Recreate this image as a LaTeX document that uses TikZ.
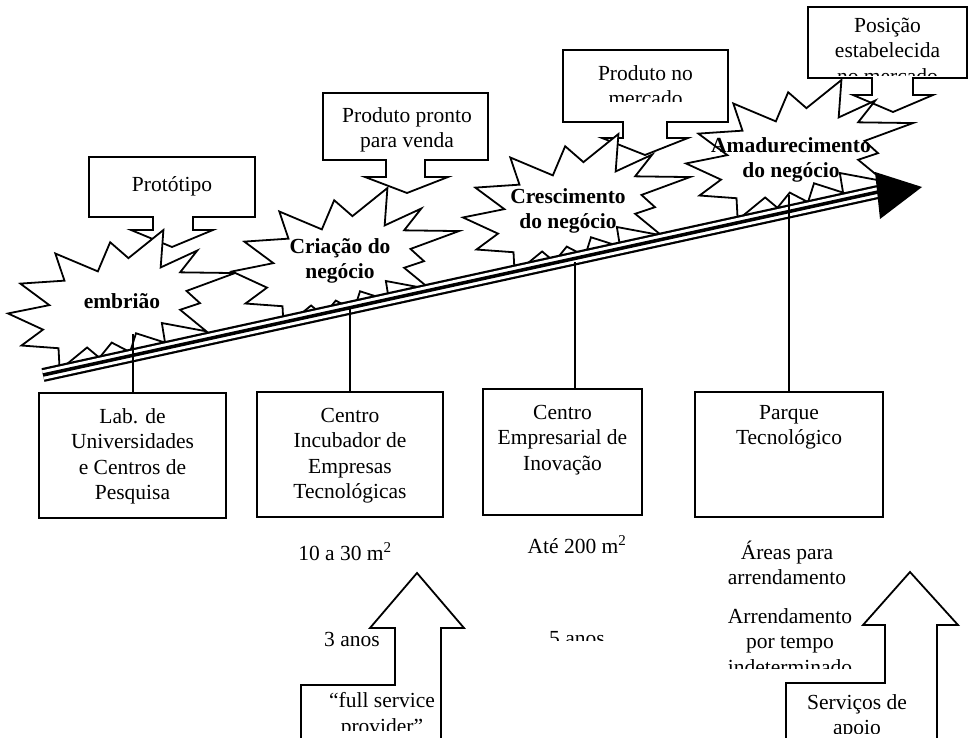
\documentclass[tikz,border=0pt]{standalone}
\usepackage{fontspec}
\setmainfont{Liberation Serif}
\usetikzlibrary{calc}
\newcommand\mystarburst[2]{%
  \begin{scope}[shift={(#1,#2)},xscale=227,yscale=140]
    \draw[ln,fill=white] (0.4501,0.0874) -- (0.3958,0.2955) -- (0.2084,0.1678) -- (0.2487,0.3619) -- (0.0543,0.3829) -- (0.1822,0.5367) -- (0,0.5962) -- (0.1542,0.7116) -- (0.0595,0.8252) -- (0.2225,0.8444) -- (0.2276,1) -- (0.3485,0.8391) -- (0.4028,0.9126) -- (0.4570,0.8042) -- (0.5376,0.8723) -- (0.5639,0.7377) -- (0.6918,0.8042) -- (0.6778,0.6644) -- (0.8739,0.7237) -- (0.7583,0.5699) -- (0.8458,0.5227) -- (0.7863,0.4353) -- (1,0.3076) -- (0.7583,0.3024) -- (0.8337,0.1469) -- (0.6725,0.2675) -- (0.6847,0) -- (0.5306,0.2010) -- cycle;
  \end{scope}}
\begin{document}
\begin{tikzpicture}[x=1pt,y=-1pt,
  ln/.style={line width=1.8pt,line join=miter},
  conn/.style={line width=1.4pt},
  txt/.style={font=\fontsize{21.5}{25.5}\selectfont,inner sep=0pt,align=center},
  btxt/.style={font=\fontsize{21.5}{25.5}\selectfont\bfseries,inner sep=0pt,align=center},
  bbox/.style={draw,line width=1.8pt,fill=white,inner sep=0pt,minimum height=125pt}]
\useasboundingbox (0,0) rectangle (969,738);
\clip (0,0) rectangle (969,738);

% callouts (down-arrow callouts)
\draw[ln,fill=white] (89,157) -- (255,157) -- (255,217) -- (193,217) -- (193,230) -- (213,230) -- (172,247) -- (131,230) -- (153,230) -- (153,217) -- (89,217) -- cycle;
\node[txt,anchor=base] (c1) at (172,192) {Protótipo};

\draw[ln,fill=white] (323,93) -- (488,93) -- (488,160) -- (425,160) -- (425,177) -- (448,177) -- (407,193) -- (365,177) -- (386,177) -- (386,160) -- (323,160) -- cycle;
\node[txt,anchor=north] (c2) at (407,107) {Produto pronto\\para venda};

\draw[ln,fill=white] (563,50) -- (728,50) -- (728,122) -- (667,122) -- (667,138) -- (688,138) -- (645,155) -- (602,138) -- (623,138) -- (623,122) -- (563,122) -- cycle;
\begin{scope}
  \clip (563,50) rectangle (728,102);
  \node[txt,anchor=north] (c3) at (645.5,65) {Produto no\\mercado};
\end{scope}

\draw[ln,fill=white] (808,7) -- (967,7) -- (967,78) -- (913,78) -- (913,95) -- (933,95) -- (893,112) -- (853,95) -- (872,95) -- (872,78) -- (808,78) -- cycle;
\begin{scope}
  \clip (808,7) rectangle (967,76);
  \node[txt,anchor=north] (c4) at (887.5,17.5) {Posição\\estabelecida\\no mercado};
\end{scope}

% starbursts
\mystarburst{8}{230}
\mystarburst{232}{188}
\mystarburst{463}{134}
\mystarburst{686}{80}

% main arrow
\coordinate (sh0) at (43,375);
\coordinate (sh1) at (878,192);
\draw[line width=14pt] (sh0) -- (sh1);
\draw[line width=9.5pt,white] (sh0) -- (sh1);
\draw[line width=3.5pt] (sh0) -- (sh1);
\coordinate (hA) at (875,172);
\coordinate (hB) at (922,187);
\coordinate (hC) at (880,219);
\fill (hA) -- (hB) -- (hC) -- cycle;

% star labels
\node[btxt,anchor=base] (s1) at (122,308) {embrião};
\node[btxt,anchor=north] (s2) at (340,238) {Criação do\\negócio};
\node[btxt,anchor=north] (s3) at (568,188) {Crescimento\\do negócio};
\node[btxt,anchor=north] (s4) at (791,137) {Amadurecimento\\do negócio};

% boxes
\node[bbox,minimum width=187pt] (b1) at (132.5,455.5) {};
\node[bbox,minimum width=186pt] (b2) at (350,454.5) {};
\node[bbox,minimum width=159pt,minimum height=126pt] (b3) at (562.5,452) {};
\node[bbox,minimum width=188pt] (b4) at (789,454.5) {};
\node[txt,anchor=north] (b1t) at (132.5,408) {Lab. de\\Universidades\\e Centros de\\Pesquisa};
\node[txt,anchor=north] (b2t) at (350,408) {Centro\\Incubador de\\Empresas\\Tecnológicas};
\node[txt,anchor=north] (b3t) at (562.5,405) {Centro\\Empresarial de\\Inovação};
\node[txt,anchor=north] (b4t) at (789,405) {Parque\\Tecnológico};

% connectors
\coordinate (k1) at (133,334);
\coordinate (k2) at (350,308);
\coordinate (k3) at (575,262);
\coordinate (k4) at (789,195);
\draw[conn] (k1) -- (k1 |- b1.north);
\draw[conn] (k2) -- (k2 |- b2.north);
\draw[conn] (k3) -- (k3 |- b3.north);
\draw[conn] (k4) -- (k4 |- b4.north);

% info texts
\node[txt,anchor=base] (a1) at (345,560) {10 a 30 m\textsuperscript{2}};
\node[txt,anchor=base] (a2) at (577,553) {Até 200 m\textsuperscript{2}};
\node[txt,anchor=south] (a3) at (787,585) {Áreas para\\arrendamento};
\node[txt,anchor=base] (y1) at (352,646) {3 anos};
\begin{scope}
  \clip (500,600) rectangle (660,640);
  \node[txt,anchor=base] (y2) at (577,645) {5 anos};
\end{scope}
\begin{scope}
  \clip (700,590) rectangle (880,668);
  \node[txt,anchor=north] (y3) at (790,608.3) {Arrendamento\\por tempo\\indeterminado};
\end{scope}

% up arrows
\draw[ln,fill=white] (417,573) -- (464,628) -- (441,628) -- (441,745) -- (301,745) -- (301,685) -- (395,685) -- (395,628) -- (370,628) -- cycle;
\draw[ln,fill=white] (910,572) -- (958,625) -- (937,625) -- (937,745) -- (786,745) -- (786,683) -- (885,683) -- (885,625) -- (863,625) -- cycle;
\begin{scope}
  \clip (302,688) rectangle (440,730);
  \node[txt,anchor=north] (u1) at (382,692.3) {“full service\\provider”};
\end{scope}
\begin{scope}
  \clip (787,686) rectangle (936,733);
  \node[txt,anchor=north] (u2) at (857,694.3) {Serviços de\\apoio};
\end{scope}
\end{tikzpicture}
\end{document}
